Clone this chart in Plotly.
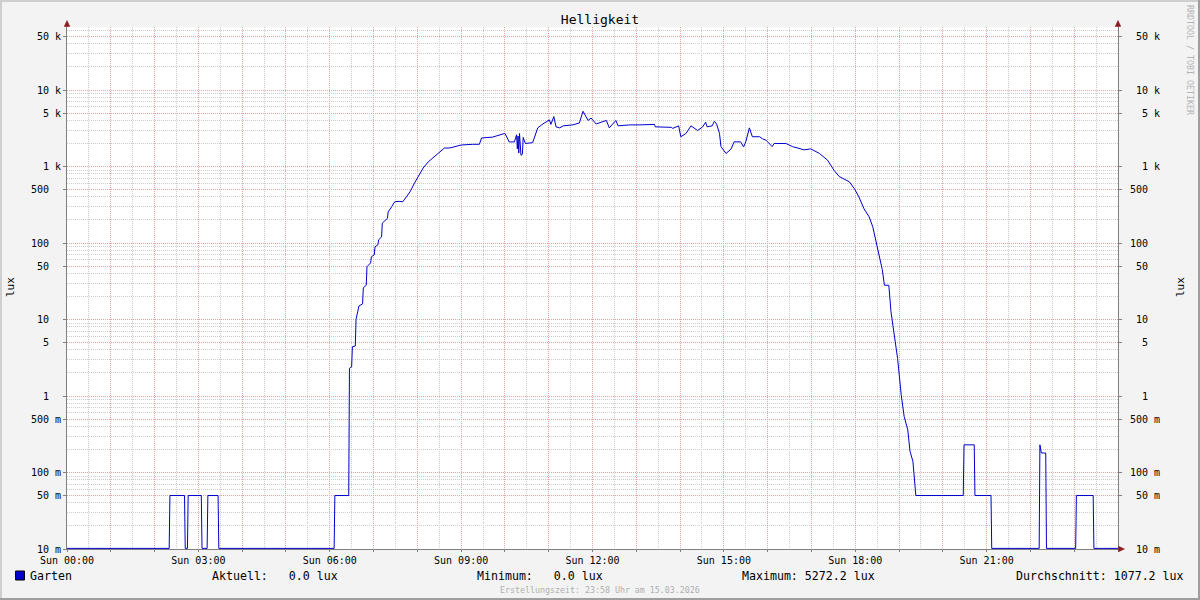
import pandas as pd
import numpy as np
import plotly.graph_objects as go

# ---------------- data ----------------
DAY = "2026-03-15"
times = [
    "00:00", "02:20", "02:21", "02:41", "02:42", "02:45", "02:46", "03:04", "03:05",
    "03:12", "03:13", "03:27", "03:28", "06:06", "06:07", "06:26", "06:27", "06:30",
    "06:31", "06:35", "06:36", "06:38", "06:40", "06:45", "06:46", "06:50", "06:51",
    "06:56", "06:57", "07:01", "07:02", "07:06", "07:07", "07:11", "07:12", "07:19",
    "07:20", "07:25", "07:29", "07:35", "07:40", "07:45", "07:50", "07:56", "08:01",
    "08:08", "08:15", "08:26", "08:37", "08:45", "08:53", "09:00", "09:16", "09:25",
    "09:28", "09:43", "10:00", "10:06", "10:13", "10:16", "10:17", "10:18", "10:19",
    "10:20", "10:22", "10:24", "10:25", "10:28", "10:38", "10:45", "10:52", "11:01",
    "11:03", "11:07", "11:10", "11:15", "11:20", "11:33", "11:42", "11:47", "11:54",
    "11:58", "12:05", "12:19", "12:23", "12:32", "12:35", "12:51", "13:04", "13:25",
    "13:26", "13:48", "13:50", "13:58", "14:01", "14:08", "14:15", "14:24", "14:31",
    "14:35", "14:37", "14:44", "14:47", "14:50", "14:54", "14:56", "15:03", "15:10",
    "15:14", "15:23", "15:27", "15:30", "15:35", "15:39", "15:49", "15:53", "15:58",
    "16:06", "16:09", "16:25", "16:34", "16:46", "16:50", "16:59", "17:11", "17:22",
    "17:31", "17:38", "17:52", "17:59", "18:05", "18:12", "18:19", "18:24", "18:27",
    "18:32", "18:37", "18:40", "18:46", "18:49", "18:53", "18:58", "19:03", "19:07",
    "19:12", "19:15", "19:19", "19:23", "20:28", "20:29", "20:43", "20:44", "21:06",
    "21:07", "22:12", "22:13", "22:15", "22:21", "22:22", "23:02", "23:03", "23:26",
    "23:27", "24:00",
]
lux = [
    0, 0, 0.05, 0.05, 0, 0, 0.05, 0.05, 0,
    0, 0.05, 0.05, 0, 0, 0.05, 0.05, 2.3, 2.4,
    4.4, 4.5, 10, 13, 15, 16, 26, 28, 49,
    55, 66, 70, 89, 95, 110, 120, 182, 210,
    255, 300, 346, 350, 346, 400, 467, 605, 740,
    955, 1150, 1400, 1740, 1750, 1820, 1910, 1950, 1950,
    2360, 2420, 2710, 2090, 2100, 2600, 1700, 2500, 1500,
    2700, 1400, 1450, 2400, 2000, 2050, 3200, 3600, 4070,
    3550, 4500, 3300, 3200, 3400, 3500, 3700, 5272.2, 4000,
    4300, 3600, 4000, 3200, 4000, 3400, 3500, 3500, 3550,
    3300, 3250, 3150, 3400, 2450, 2700, 3400, 2950, 3300,
    3800, 3300, 3400, 3900, 3600, 2700, 1820, 1480, 1700,
    2100, 2100, 1800, 2100, 3200, 2450, 2450, 2300, 2200,
    1820, 2000, 2000, 1820, 1700, 1650, 1700, 1480, 1210,
    890, 740, 630, 510, 400, 280, 220, 163, 121,
    81, 45, 28, 28, 12.6, 6.3, 3.1, 1.03, 0.54,
    0.36, 0.19, 0.14, 0.05, 0.05, 0.23, 0.23, 0.05, 0.05,
    0, 0, 0.23, 0.18, 0.18, 0, 0, 0.05, 0.05,
    0, 0,
]
series_name = "Garten"
unit = "lux"
stat_current = 0.0
stat_min = 0.0
stat_max = 5272.2
stat_avg = 1077.2

x_tick_hours = list(range(0, 25))
y_tick_vals = [0.01, 0.05, 0.1, 0.5, 1, 5, 10, 50, 100, 500, 1000, 5000, 10000, 50000]
y_num = ["10", "50", "100", "500", "1", "5", "10", "50", "100", "500", "1", "5", "10", "50"]
y_suf = ["m", "m", "m", "m", "", "", "", "", "", "", "k", "k", "k", "k"]

# ---------------- build ----------------
NB = "\u00a0"
HIDE = '<span style="color:rgba(0,0,0,0)">%s</span>'
base = pd.Timestamp(DAY)


def to_ts(s):
    h, m = s.split(":")
    return base + pd.Timedelta(hours=int(h), minutes=int(m))


xs = [to_ts(t) for t in times]
W, H = 1200, 600
L, R, T, B = 67, 1118, 27, 549
DEC = 76.5
y_lo = -2.0
y_hi = y_lo + (B - T) / DEC
floor_val = 10 ** (y_lo + 0.6 / DEC)
ys = np.maximum(np.array(lux, dtype=float), floor_val)

left_text = []
right_text = []
for n, s in zip(y_num, y_suf):
    lead = NB * (3 - len(n))
    if s:
        left_text.append(n + NB + s)
        right_text.append(lead + n + NB + s)
    else:
        left_text.append(n + HIDE % (NB + "k"))
        right_text.append(lead + n)

x_tickvals = [base + pd.Timedelta(hours=h) for h in x_tick_hours]
x_ticktext = [("Sun %02d:00" % h) if (h % 3 == 0 and h < 24) else "" for h in x_tick_hours]
x_minor = [base + pd.Timedelta(minutes=30 + 60 * h) for h in range(24)]

y_minor = []
for e in range(-2, 5):
    for k in (2, 3, 4, 6, 7, 8, 9):
        v = k * 10 ** e
        if np.log10(v) < y_hi:
            y_minor.append(v)

FONT = "DejaVu Sans Mono"
MAJ = "#E8A3A3"
MIN = "#CDCDCD"
AXC = "#808080"
ARROW = "#8B1C1C"
DASH = "1px,1px"

fig = go.Figure()
fig.add_trace(go.Scatter(x=xs, y=ys, mode="lines", line=dict(color="#0000CC", width=1),
                         name=series_name, showlegend=False, hoverinfo="skip"))
fig.add_trace(go.Scatter(x=[xs[0]], y=[1], yaxis="y2", mode="markers",
                         marker=dict(opacity=0), showlegend=False, hoverinfo="skip"))


def fx(p):
    return (p - L) / (R - L)


def fy(p):
    return (B - p) / (B - T)


shapes = []
# frame
shapes.append(dict(type="rect", xref="paper", yref="paper", x0=fx(0), x1=fx(W), y0=fy(0), y1=fy(2),
                   fillcolor="#CFCFCF", line=dict(width=0), layer="above"))
shapes.append(dict(type="rect", xref="paper", yref="paper", x0=fx(0), x1=fx(2), y0=fy(0), y1=fy(H),
                   fillcolor="#CFCFCF", line=dict(width=0), layer="above"))
shapes.append(dict(type="rect", xref="paper", yref="paper", x0=fx(0), x1=fx(W), y0=fy(H - 2), y1=fy(H),
                   fillcolor="#9E9E9E", line=dict(width=0), layer="above"))
shapes.append(dict(type="rect", xref="paper", yref="paper", x0=fx(W - 2), x1=fx(W), y0=fy(0), y1=fy(H),
                   fillcolor="#9E9E9E", line=dict(width=0), layer="above"))
# axis extensions above plot
for ax in (L, R):
    shapes.append(dict(type="line", xref="paper", yref="paper", x0=fx(ax), x1=fx(ax), y0=fy(T), y1=fy(24),
                       line=dict(color=AXC, width=1), layer="above"))
    shapes.append(dict(type="path", xref="paper", yref="paper",
                       path="M %f,%f L %f,%f L %f,%f Z" % (fx(ax - 2.8), fy(26.5), fx(ax + 2.8), fy(26.5), fx(ax), fy(20.5)),
                       fillcolor=ARROW, line=dict(color=ARROW, width=0.5), layer="above"))
shapes.append(dict(type="path", xref="paper", yref="paper",
                   path="M %f,%f L %f,%f L %f,%f Z" % (fx(R + 0.5), fy(B - 2.8), fx(R + 0.5), fy(B + 2.8), fx(R + 6.5), fy(B)),
                   fillcolor=ARROW, line=dict(color=ARROW, width=0.5), layer="above"))
# legend swatch
shapes.append(dict(type="rect", xref="paper", yref="paper", x0=fx(15.5), x1=fx(24.5), y0=fy(571), y1=fy(580),
                   fillcolor="#0000CC", line=dict(color="#000000", width=1), layer="above"))

ann = []


def text(px_, py_, s, size, color="#000000", anchor="left", angle=0):
    ann.append(dict(xref="paper", yref="paper", x=fx(px_), y=fy(py_), text=s.replace(" ", NB),
                    showarrow=False, xanchor=anchor, yanchor="middle", textangle=angle,
                    font=dict(family=FONT, size=size, color=color), borderpad=0))


LEG = 11.6
text(29, 575.5, series_name, LEG)
text(211, 575.5, "Aktuell: %5.1f %s" % (stat_current, unit), LEG)
text(476, 575.5, "Minimum: %5.1f %s" % (stat_min, unit), LEG)
text(741, 575.5, "Maximum: %5.1f %s" % (stat_max, unit), LEG)
text(1015, 575.5, "Durchschnitt: %5.1f %s" % (stat_avg, unit), LEG)
text(600, 589.5, "Erstellungszeit: 23:58 Uhr am 15.03.2026", 8.3, "#AFAFAF", "center")
text(1190, 60, "RRDTOOL / TOBI OETIKER", 8.3, "#B4B4B4", "center", 90)
text(10, 287, unit, 11, "#000000", "center", -90)
text(1180, 287, unit, 11, "#000000", "center", -90)

yrange = [y_lo, y_hi]
fig.update_layout(
    width=W, height=H,
    margin=dict(l=L, r=W - R, t=T, b=H - B, pad=0),
    paper_bgcolor="#F3F3F3", plot_bgcolor="#FFFFFF",
    title=dict(text="Helligkeit", x=0.5, xref="container", xanchor="center",
               y=1 - 19.5 / H, yref="container", yanchor="middle",
               font=dict(family=FONT, size=13, color="#000000")),
    showlegend=False,
    font=dict(family=FONT, size=10, color="#000000"),
    xaxis=dict(type="date", range=[base, base + pd.Timedelta(hours=24)],
               tickmode="array", tickvals=x_tickvals, ticktext=x_ticktext,
               showgrid=True, gridcolor=MAJ, griddash=DASH, gridwidth=1,
               minor=dict(tickmode="array", tickvals=x_minor, showgrid=True, gridcolor=MIN,
                          griddash=DASH, gridwidth=1, ticks=""),
               showline=True, linecolor=AXC, linewidth=1, ticks="outside", ticklen=2,
               tickcolor=AXC, zeroline=False, layer="below traces",
               tickfont=dict(family=FONT, size=10, color="#000000"), fixedrange=True),
    yaxis=dict(type="log", range=yrange, tickmode="array", tickvals=y_tick_vals, ticktext=left_text,
               showgrid=True, gridcolor=MAJ, griddash=DASH, gridwidth=1,
               minor=dict(tickmode="array", tickvals=y_minor, showgrid=True, gridcolor=MIN,
                          griddash=DASH, gridwidth=1, ticks=""),
               showline=True, linecolor=AXC, linewidth=1, ticks="outside", ticklen=3,
               tickcolor=AXC, zeroline=False, layer="below traces",
               tickfont=dict(family=FONT, size=10, color="#000000"), fixedrange=True),
    yaxis2=dict(type="log", range=yrange, overlaying="y", side="right", anchor="x",
                tickmode="array", tickvals=y_tick_vals, ticktext=right_text,
                showgrid=False, showline=True, linecolor=AXC, linewidth=1,
                ticks="outside", ticklen=3, tickcolor=AXC, zeroline=False, layer="below traces",
                ticklabelstandoff=6,
                tickfont=dict(family=FONT, size=10, color="#000000"), fixedrange=True),
    shapes=shapes, annotations=ann,
)

fig.write_html("out.html", config={"displayModeBar": False, "staticPlot": True},
               post_script="document.body.style.margin='0';document.body.style.padding='0';"
                           "document.documentElement.style.overflow='hidden';")
